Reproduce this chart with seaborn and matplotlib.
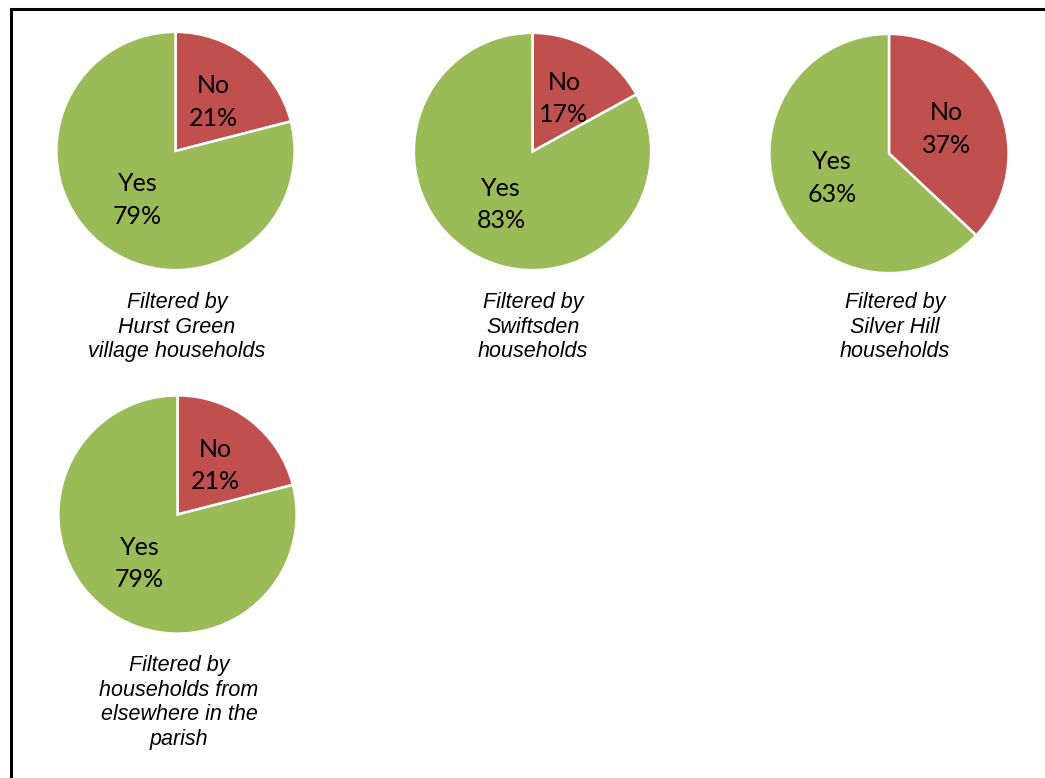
import matplotlib
matplotlib.use("Agg")
import matplotlib.pyplot as plt
from matplotlib.patches import Rectangle
import seaborn as sns

# Yes / No shares for each household group
categories = ["No", "Yes"]
hurst_green = [21, 79]
swiftsden = [17, 83]
silver_hill = [37, 63]
elsewhere = [21, 79]

captions = [
    "Filtered by\nHurst Green\nvillage households",
    "Filtered by\nSwiftsden\nhouseholds",
    "Filtered by\nSilver Hill\nhouseholds",
    "Filtered by\nhouseholds from\nelsewhere in the\nparish",
]

sns.set_theme(style="white")
plt.rcParams["font.family"] = ["Lato", "DejaVu Sans"]
colors = ["#C0504D", "#9BBB59"]

W, H = 1045, 778
fig = plt.figure(figsize=(W / 100, H / 100), dpi=100)
fig.patch.set_facecolor("white")

# (center x, center y, radius, caption center x, caption top y) in pixels
panels = [
    (hurst_green, 175.5, 151, 121.5, 177, 292),
    (swiftsden, 532.5, 151.5, 121, 533, 292),
    (silver_hill, 889, 153.5, 122, 895, 292),
    (elsewhere, 177.5, 514.5, 121.5, 179, 655),
]

for (vals, cx, cy, r, tx, ty), cap in zip(panels, captions):
    ax = fig.add_axes([(cx - r) / W, 1 - (cy + r) / H, 2 * r / W, 2 * r / H])
    labels = [f"{c}\n{v}%" for c, v in zip(categories, vals)]
    wedges, texts = ax.pie(
        vals,
        labels=labels,
        colors=colors,
        startangle=90,
        counterclock=False,
        labeldistance=0.52,
        radius=1,
        wedgeprops=dict(edgecolor="white", linewidth=1.8),
        textprops=dict(fontsize=18, color="black", ha="center", va="center",
                       linespacing=1.5),
    )
    ax.set_xlim(-1.02, 1.02)
    ax.set_ylim(-1.02, 1.02)
    ax.axis("off")
    fig.text(tx / W, 1 - ty / H, cap, ha="center", va="top", color="black",
             fontsize=15.5, style="italic", family=["Liberation Sans", "DejaVu Sans"],
             linespacing=1.22)

# outer frame
fig.patches.append(Rectangle((10.5 / W, -0.1), 1.2, 1 - 9 / H + 0.1,
                             transform=fig.transFigure, fill=False,
                             edgecolor="black", linewidth=2.2))

fig.savefig("out.png", dpi=100, facecolor="white")
